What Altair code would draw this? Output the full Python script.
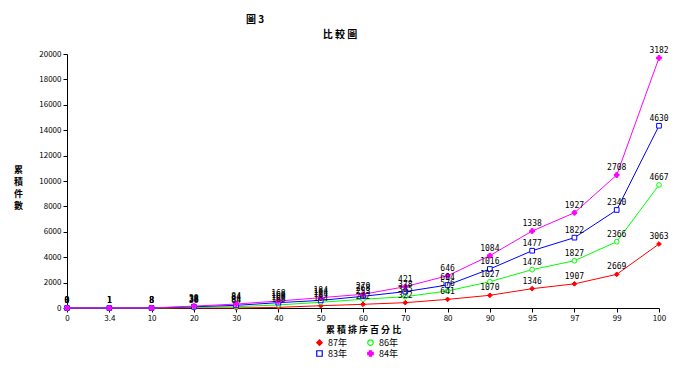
import altair as alt
import pandas as pd

cats = ["0", "3.4", "10", "20", "30", "40", "50", "60", "70", "80", "90", "95", "97", "99", "100"]
series = ["87年", "83年", "86年", "84年"]

v87 = [0, 0, 0, 0, 0, 50, 180, 290, 420, 680, 1000, 1520, 1900, 2650, 5040]
v86 = [0, 0, 0, 50, 100, 240, 450, 690, 890, 1340, 2070, 3020, 3720, 5220, 9690]
v83 = [0, 0, 0, 100, 210, 420, 600, 920, 1290, 1810, 3070, 4510, 5540, 7720, 14350]
v84 = [0, 0, 0, 150, 310, 550, 810, 1080, 1680, 2540, 4120, 6060, 7500, 10470, 19690]

l87 = ["0", "1", "8", "38", "84", "168", "184", "242", "322", "641", "1070", "1346", "1907", "2669", "3063"]
l86 = ["0", "1", "8", "38", "84", "168", "184", "253", "345", "576", "1027", "1478", "1827", "2366", "4667"]
l83 = ["0", "1", "8", "38", "84", "168", "184", "268", "378", "604", "1016", "1477", "1822", "2340", "4630"]
l84 = ["0", "1", "8", "38", "84", "168", "184", "279", "421", "646", "1084", "1338", "1927", "2708", "3182"]

colors = ["#FF0000", "#0000FF", "#00FF00", "#FF00FF"]
fills = ["#FF0000", "#FFFFFF", "#FFFFFF", "#FF00FF"]
shapes = ["diamond", "square", "circle", "cross"]

rows = []
for name, vals, labs in zip(["87年", "86年", "83年", "84年"], [v87, v86, v83, v84], [l87, l86, l83, l84]):
    for c, v, l in zip(cats, vals, labs):
        rows.append({"x": c, "y": v, "s": name, "lab": l})
df = pd.DataFrame(rows)

FONT = "Noto Sans CJK TC"

xenc = alt.X("x:N", sort=cats, scale=alt.Scale(type="point", padding=0),
             axis=alt.Axis(title="累 積 排 序 百 分 比", labelAngle=0, titlePadding=3,
                           titleFontSize=9, titleFontWeight="bold"))
yenc = alt.Y("y:Q", scale=alt.Scale(domain=[0, 20000], nice=False),
             axis=alt.Axis(values=list(range(0, 20001, 2000)), format="d",
                           title=["累", "積", "件", "數"], titleAngle=0,
                           titleX=-49, titleY=111, titleAlign="center",
                           titleBaseline="top", titleLineHeight=12,
                           titleFontSize=9, titleFontWeight="bold"))

leg = dict(title=None, orient="none", legendX=248, legendY=284, columns=2,
           columnPadding=18, rowPadding=0, labelFontSize=9, symbolSize=30)
stroke = alt.Stroke("s:N", scale=alt.Scale(domain=series, range=colors),
                    legend=alt.Legend(symbolStrokeWidth=1.2, **leg))
shape = alt.Shape("s:N", scale=alt.Scale(domain=series, range=shapes),
                  legend=alt.Legend(**leg))
fill = alt.Fill("s:N", scale=alt.Scale(domain=series, range=fills), legend=None)

base = alt.Chart(df)
lines = base.mark_line(strokeWidth=1).encode(x=xenc, y=yenc, stroke=stroke, detail="s:N")
points = base.mark_point(filled=True, size=22, strokeWidth=1, opacity=1).encode(
    x=xenc, y=yenc, stroke=stroke, shape=shape, fill=fill)
labels = base.mark_text(dy=-7, fontSize=8, font="DejaVu Sans Mono", color="black").encode(
    x=xenc, y=yenc, text="lab:N")

t1 = alt.Chart(pd.DataFrame({"t": ["圖 3"]})).mark_text(
    fontSize=10, fontWeight="bold", font=FONT, color="black").encode(
    x=alt.value(188), y=alt.value(-34), text="t:N")
t2 = alt.Chart(pd.DataFrame({"t": ["比 較 圖"]})).mark_text(
    fontSize=10, fontWeight="bold", font=FONT, color="black").encode(
    x=alt.value(273), y=alt.value(-19), text="t:N")

chart = alt.layer(lines, points, labels, t1, t2).properties(
    width=592, height=254,
    autosize=alt.AutoSizeParams(type="none"),
    padding={"left": 59, "top": 46, "right": 16, "bottom": 62},
    background="white",
).configure_axis(
    grid=False, domainColor="black", tickColor="black", labelColor="black",
    titleColor="black", labelFont=FONT, titleFont=FONT, labelFontSize=8, tickSize=4,
).configure_legend(labelFont=FONT, labelColor="black").configure_view(stroke=None)

chart.save("out.html", embed_options={"renderer": "svg", "actions": False})
